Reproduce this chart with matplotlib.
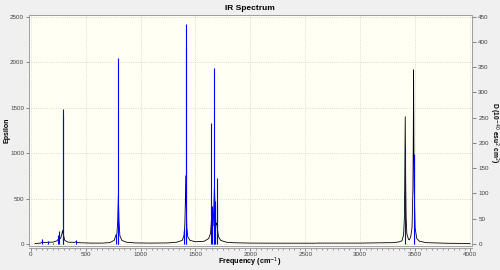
import numpy as np
import matplotlib
matplotlib.use('Agg')
import matplotlib.pyplot as plt
from matplotlib.ticker import MultipleLocator

plt.rcParams['font.family'] = ['Liberation Sans', 'DejaVu Sans']

# courbe epsilon
curve_freq = [40, 90, 106, 120, 160, 200, 240, 252, 261, 272, 284, 291, 298, 310, 340,
              400, 413, 425, 450, 550, 650, 720, 760, 777, 785, 792, 798, 804, 812, 830,
              870, 950, 1100, 1250, 1330, 1380, 1395, 1403, 1408, 1412, 1416, 1421, 1430,
              1450, 1500, 1580, 1620, 1638, 1645, 1649, 1654, 1660, 1667, 1673, 1679, 1686,
              1691, 1695, 1700, 1710, 1730, 1780, 1850, 2000, 2300, 2590, 2600, 3000, 3300,
              3350, 3380, 3395, 3402, 3406, 3410, 3414, 3418, 3425, 3440, 3448, 3460, 3472,
              3480, 3483, 3486, 3489, 3492, 3500, 3515, 3540, 3600, 3800, 4000]
curve_eps = [5, 10, 25, 15, 20, 20, 35, 55, 70, 60, 110, 150, 100, 40, 20,
             18, 25, 16, 14, 10, 10, 15, 40, 100, 110, 250, 540, 250, 90, 40,
             20, 12, 10, 12, 20, 40, 90, 200, 450, 750, 450, 190, 80,
             40, 25, 30, 60, 120, 250, 320, 220, 200, 380, 650, 400, 210,
             220, 230, 160, 80, 40, 20, 14, 10, 9, 9, 10, 10, 15,
             22, 35, 100, 280, 700, 1400, 700, 290, 110, 50, 45, 80, 180,
             600, 1100, 1915, 1100, 600, 180, 60, 30, 15, 8, 6]

# bâtons (force dipolaire D)
stick_freq = [106, 160, 200, 252, 261, 290, 290, 413, 777, 792, 798, 1400, 1412, 1412,
              1645, 1650, 1670, 1673, 1678, 1692, 1695, 3410, 3486]
stick_d = [10, 6, 2, 18, 25, 255, 267, 8, 20, 45, 368, 30, 390, 435,
           239, 75, 90, 348, 85, 80, 131, 190, 178]

W, H = 500, 270
fig = plt.figure(figsize=(5, 2.7), dpi=100, facecolor='#f0f0f0')
ax = fig.add_axes([29 / W, (H - 246) / H, (472 - 29) / W, (246 - 15) / H])
ax.set_facecolor('#fffff3')

ax.plot(curve_freq, curve_eps, color='black', lw=0.6)
ax.set_xlim(-15.5, 4018)
ax.set_ylim(-22, 2518.7)

ax2 = ax.twinx()
ax2.vlines(stick_freq, 0, stick_d, color='#0000ff', lw=0.8)
ax2.set_ylim(-4, 453.4)

ax.xaxis.set_major_locator(MultipleLocator(500))
ax.xaxis.set_minor_locator(MultipleLocator(50))
ax.yaxis.set_major_locator(MultipleLocator(500))
ax2.yaxis.set_major_locator(MultipleLocator(50))

ax.grid(True, color='#d0d0d0', linestyle=':', linewidth=0.6)
ax.set_axisbelow(True)

for a in (ax, ax2):
    for s in a.spines.values():
        s.set_color('#a0a0a0')
        s.set_linewidth(0.7)
ax.spines['bottom'].set_position(('outward', 1.5))

ax.tick_params(axis='x', which='major', length=2.5, width=0.6, color='#707070',
               labelsize=4.5, labelcolor='#404040', pad=0.5)
ax.tick_params(axis='x', which='minor', length=1.3, width=0.5, color='#707070')
ax.tick_params(axis='y', length=2, width=0.6, color='#707070',
               labelsize=4.5, labelcolor='#404040', pad=1.5)
ax2.tick_params(axis='y', length=3, width=0.6, color='#707070',
                labelsize=4.5, labelcolor='#404040', pad=1.5)

fig.text(250 / W, 1 - 8 / H, 'IR Spectrum', ha='center', va='center',
         fontsize=6, fontweight='bold')
fig.text(250 / W, 1 - 269 / H, 'Frequency (cm$^{-1}$)', ha='center', va='bottom',
         fontsize=5.2, fontweight='bold')
fig.text(7 / W, 1 - 130 / H, 'Epsilon', ha='center', va='center', rotation=90,
         fontsize=5, fontweight='bold')
fig.text(494 / W, 1 - 133 / H, 'D (10$^{-40}$ esu$^{2}$ cm$^{2}$)', ha='center',
         va='center', rotation=270, fontsize=4.8, fontweight='bold')

fig.savefig('out.png', dpi=100, facecolor=fig.get_facecolor())
